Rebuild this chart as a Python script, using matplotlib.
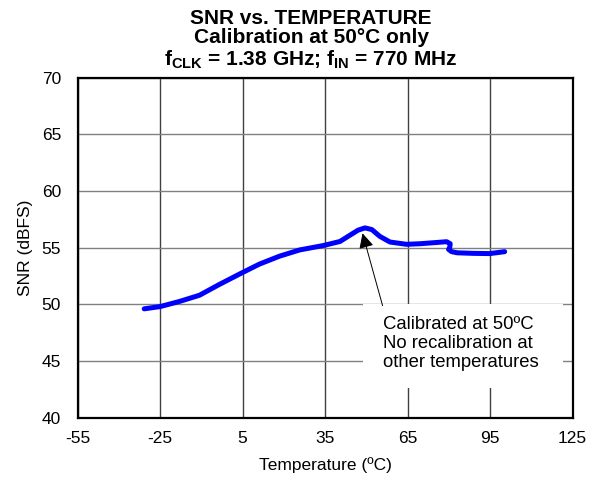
import matplotlib
matplotlib.use("Agg")
import matplotlib.pyplot as plt
from matplotlib.patches import Rectangle

plt.rcParams['font.family'] = ['Liberation Sans', 'DejaVu Sans']
plt.rcParams['axes.unicode_minus'] = False
plt.rcParams['mathtext.fontset'] = 'custom'
plt.rcParams['mathtext.rm'] = 'Liberation Sans'
plt.rcParams['mathtext.bf'] = 'Liberation Sans:bold'

# values
temp_c = [-30.8, -25, -18, -10.7, -3.5, 4.5, 11.1, 18.4, 25.7, 34.5, 40.4,
          44.0, 47.0, 49.5, 52.0, 54.9, 58.6, 64.6, 69.5, 75.0, 79.2, 80.5,
          80.3, 79.9, 81.0, 83.0, 88.9, 94.9, 100.3]
snr_dbfs = [49.6, 49.8, 50.25, 50.8, 51.75, 52.75, 53.55, 54.25, 54.8, 55.2, 55.55,
            56.1, 56.55, 56.75, 56.6, 56.0, 55.5, 55.3, 55.35, 55.45, 55.53, 55.35,
            55.0, 54.85, 54.65, 54.55, 54.5, 54.48, 54.65]
x_ticks = [-55, -25, 5, 35, 65, 95, 125]
y_ticks = [40, 45, 50, 55, 60, 65, 70]

fig = plt.figure(figsize=(6.05, 4.82), dpi=100)
ax = fig.add_axes([0.1284, 0.1338, 0.818, 0.7046])

ax.plot(temp_c, snr_dbfs, color='#0000ff', lw=3.6, solid_joinstyle='round',
        solid_capstyle='round', zorder=3)

ax.set_xlim(-55, 125)
ax.set_ylim(40, 70)
ax.set_xticks(x_ticks)
ax.set_yticks(y_ticks)
ax.tick_params(length=0, labelsize=12.5)
ax.tick_params(axis='x', pad=10)
ax.tick_params(axis='y', pad=12)
ax.xaxis.grid(True, color='#404040', lw=1)
ax.yaxis.grid(True, color='#808080', lw=1)
ax.set_axisbelow(True)
for s in ax.spines.values():
    s.set_linewidth(1.6)
    s.set_color('black')

ax.set_xlabel('Temperature (ºC)', fontsize=12.5, labelpad=8)
ax.set_ylabel('SNR (dBFS)', fontsize=12.5, labelpad=6)

# title, three lines centred a little left of the axes centre
tx = 311 / 605
fig.text(tx, 1 - 24 / 482, 'SNR vs. TEMPERATURE', ha='center', va='baseline',
         fontsize=15, fontweight='bold')
fig.text(tx, 1 - 43 / 482, 'Calibration at 50°C only', ha='center', va='baseline',
         fontsize=15, fontweight='bold')
fig.text(tx, 1 - 65 / 482,
         r'f$_{\mathbf{CLK}}$ = 1.38 GHz; f$_{\mathbf{IN}}$ = 770 MHz',
         ha='center', va='baseline', fontsize=15, fontweight='bold')

# white box behind the note hides the grid
ax.add_patch(Rectangle((48.75, 42.6), 72.75, 7.45, facecolor='white',
                       edgecolor='none', zorder=2))
ax.text(56.2, 48.95, 'Calibrated at 50ºC\nNo recalibration at\nother temperatures',
        ha='left', va='top', fontsize=13.3, linespacing=1.15, zorder=4)
ax.annotate('', xy=(48.6, 56.27), xytext=(55.9, 49.88),
            arrowprops=dict(arrowstyle='-|>,head_length=0.9,head_width=0.45',
                            color='black', lw=0.7, shrinkA=0, shrinkB=0), zorder=5)

fig.savefig('out.png', dpi=100)
